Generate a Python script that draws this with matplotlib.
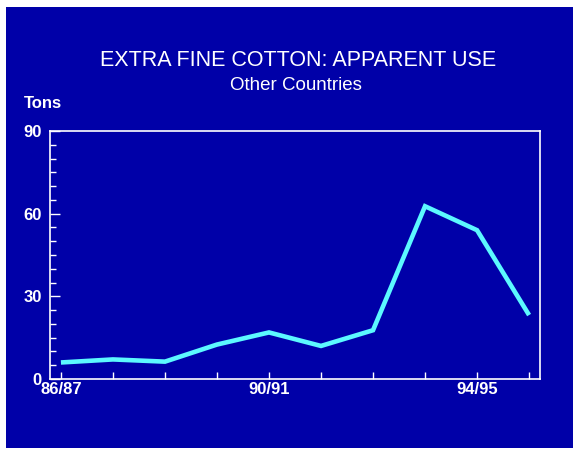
import matplotlib
matplotlib.use("Agg")
import matplotlib.pyplot as plt
from matplotlib.patches import Rectangle
from matplotlib.ticker import MultipleLocator

seasons = ["86/87", "87/88", "88/89", "89/90", "90/91", "91/92",
           "92/93", "93/94", "94/95", "95/96"]
use_tons = [6.0, 7.1, 6.3, 12.5, 16.9, 12.0, 17.7, 62.7, 54.0, 23.2]
labeled = ["86/87", "90/91", "94/95"]
yticks = [0, 30, 60, 90]

BG = "#0000A8"
LINE = "#5CF8FF"
W, H = 578, 449

fig = plt.figure(figsize=(W / 100, H / 100), dpi=100, facecolor="white")
fig.patches.append(Rectangle((6 / W, 1 / H), 567 / W, 441 / H,
                             transform=fig.transFigure, facecolor=BG,
                             edgecolor="none", zorder=-5))

ax = fig.add_axes([50 / W, 1 - 379 / H, 490 / W, 248 / H], zorder=2)
ax.set_facecolor(BG)
x = list(range(len(seasons)))
ax.plot(x, use_tons, color=LINE, lw=3.3, solid_joinstyle="miter",
        solid_capstyle="butt")

ax.set_xlim(-0.21, 9.21)
ax.set_ylim(0, 90)
ax.set_xticks(x)
ax.set_xticklabels([s if s in labeled else "" for s in seasons])
ax.set_yticks(yticks)
ax.yaxis.set_minor_locator(MultipleLocator(5))

for sp in ax.spines.values():
    sp.set_color("white")
    sp.set_linewidth(1.2)

ax.tick_params(axis="x", direction="in", length=5, width=1, color="white",
               labelcolor="white", pad=2)
ax.tick_params(axis="y", which="major", direction="in", length=7, width=1,
               color="white", labelcolor="white", pad=6)
ax.tick_params(axis="y", which="minor", direction="in", length=4, width=1,
               color="white")
for lab in ax.get_xticklabels() + ax.get_yticklabels():
    lab.set_fontfamily("Liberation Sans")
    lab.set_fontweight("bold")
    lab.set_fontsize(12)

fig.text(298 / W, 1 - 60 / H, "EXTRA FINE COTTON: APPARENT USE",
         ha="center", va="center", color="white", fontsize=15.5,
         family="Liberation Sans")
fig.text(296 / W, 1 - 86 / H, "Other Countries", ha="center", va="center",
         color="white", fontsize=13.5, family="Liberation Sans")
fig.text(24 / W, 1 - 104 / H, "Tons", ha="left", va="center", color="white",
         fontsize=12, family="Liberation Sans", weight="bold")

fig.savefig("out.png", dpi=100, facecolor="white")
